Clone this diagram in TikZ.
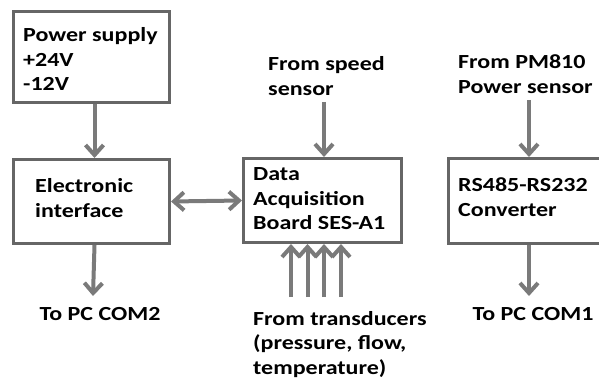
\documentclass[tikz,border=0pt]{standalone}
\usepackage{fontspec}
\setmainfont{Carlito}[FakeStretch=1.2]
\usetikzlibrary{arrows.meta}
\definecolor{boxgray}{HTML}{666666}
\definecolor{arrgray}{HTML}{7A7A7A}
\newcommand{\mlines}[1]{\begin{tabular}[t]{@{}l@{}}#1\end{tabular}}
\tikzset{
  blk/.style={draw=boxgray, line width=3pt, fill=white, rectangle, inner sep=0pt},
  lbl/.style={inner sep=0pt, font=\fontsize{20}{24.5}\selectfont\bfseries, text=black},
  arr/.style={draw=arrgray, line width=4pt, -{Straight Barb[length=10pt,width=18pt]}},
  darr/.style={draw=arrgray, line width=4pt, {Straight Barb[length=10pt,width=18pt]}-{Straight Barb[length=10pt,width=18pt]}},
}
\begin{document}
\begin{tikzpicture}[x=1pt,y=-1pt]
\useasboundingbox (0,0) rectangle (599,379);
\clip (0,0) rectangle (599,379);
% boxes
\node[blk, minimum width=156pt, minimum height=91pt, anchor=north west] (ps) at (12,10) {};
\node[blk, minimum width=156pt, minimum height=84pt, anchor=north west] (ei) at (12,158) {};
\node[blk, minimum width=158pt, minimum height=84pt, anchor=north west] (daq) at (242,157) {};
\node[blk, minimum width=160pt, minimum height=85pt, anchor=north west] (conv) at (447,157) {};
% texts
\node[lbl, anchor=base west] (pst) at (23,42) {\mlines{Power supply\\+24V\\-12V}};
\node[lbl, anchor=base west] (eit) at (35,193) {\mlines{Electronic\\interface}};
\node[lbl, anchor=base west] (daqt) at (253,181) {\mlines{Data\\Acquisition\\Board SES-A1}};
\node[lbl, anchor=base west] (convt) at (458,192) {\mlines{RS485-RS232\\Converter}};
\node[lbl, anchor=base west] (speed) at (268,71) {\mlines{From speed\\sensor}};
\node[lbl, anchor=base west] (pm) at (458,69) {\mlines{From PM810\\Power sensor}};
\node[lbl, anchor=base] (com2) at (100,320) {To PC COM2};
\node[lbl, anchor=base] (com1) at (533,320) {To PC COM1};
\node[lbl, anchor=base west] (trans) at (253,325) {\mlines{From transducers\\(pressure, flow,\\temperature)}};
% free ends
\coordinate (speedend) at (324,102);
\coordinate (pmend) at (529,100);
\coordinate (com2end) at (93,296);
\coordinate (com1end) at (529,296);
\coordinate (t1) at (291,297);
\coordinate (t2) at (307.5,297);
\coordinate (t3) at (324,297);
\coordinate (t4) at (341,297);
% connectors
\draw[arr] ([xshift=3pt]ps.south) -- ([xshift=3pt]ei.north);
\draw[arr] ([xshift=3pt]ei.south) -- (com2end);
\draw[darr] (ei.east) -- (daq.west);
\draw[arr] (speedend) -- (speedend |- daq.north);
\draw[arr] (pmend) -- (pmend |- conv.north);
\draw[arr] (pmend |- conv.south) -- (com1end);
\foreach \t in {t1,t2,t3,t4}{
  \draw[arr] (\t) -- (\t |- daq.south);
}
\end{tikzpicture}
\end{document}
